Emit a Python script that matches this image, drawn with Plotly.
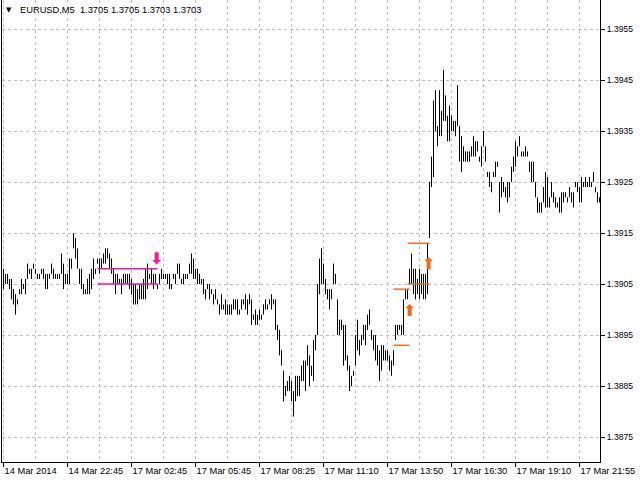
import plotly.graph_objects as go

# EURUSD M5, barres numerotees de 1 a 299 (le week-end est saute, comme dans MT4)
BAR_HIGH = [
    1.3908, 1.3907, 1.3907, 1.3906, 1.3906, 1.3904, 1.3903, 1.3902, 1.3904, 1.3906,
    1.3905, 1.3906, 1.3909, 1.3908, 1.3908, 1.3909, 1.3908, 1.3907, 1.3907, 1.3908,
    1.3908, 1.3907, 1.3907, 1.3907, 1.3909, 1.3908, 1.3907, 1.3907, 1.3907, 1.3911,
    1.3909, 1.3907, 1.3907, 1.3910, 1.3910, 1.3915, 1.3914, 1.3912, 1.3908, 1.3908,
    1.3905, 1.3904, 1.3906, 1.3907, 1.3908, 1.3910, 1.3908, 1.3910, 1.3910, 1.3910,
    1.3911, 1.3912, 1.3912, 1.3911, 1.3910, 1.3908, 1.3907, 1.3907, 1.3906, 1.3906,
    1.3907, 1.3907, 1.3907, 1.3907, 1.3906, 1.3905, 1.3905, 1.3904, 1.3905, 1.3905,
    1.3906, 1.3908, 1.3909, 1.3907, 1.3908, 1.3907, 1.3907, 1.3905, 1.3907, 1.3908,
    1.3907, 1.3907, 1.3907, 1.3907, 1.3905, 1.3907, 1.3907, 1.3909, 1.3909, 1.3906,
    1.3907, 1.3907, 1.3907, 1.3909, 1.3911, 1.3910, 1.3908, 1.3908, 1.3907, 1.3906,
    1.3906, 1.3904, 1.3905, 1.3905, 1.3904, 1.3903, 1.3904, 1.3902, 1.3901, 1.3903,
    1.3901, 1.3902, 1.3901, 1.3901, 1.3901, 1.3902, 1.3902, 1.3902, 1.3900, 1.3902,
    1.3902, 1.3903, 1.3902, 1.3903, 1.3902, 1.3899, 1.3900, 1.3899, 1.3900, 1.3899,
    1.3901, 1.3902, 1.3901, 1.3902, 1.3903, 1.3902, 1.3902, 1.3897, 1.3896, 1.3892,
    1.3888, 1.3885, 1.3886, 1.3887, 1.3886, 1.3884, 1.3887, 1.3887, 1.3887, 1.3889,
    1.3890, 1.3890, 1.3893, 1.3891, 1.3889, 1.3894, 1.3895, 1.3905, 1.3910, 1.3912,
    1.3909, 1.3906, 1.3904, 1.3904, 1.3904, 1.3909, 1.3907, 1.3902, 1.3898, 1.3898,
    1.3897, 1.3897, 1.3891, 1.3889, 1.3887, 1.3888, 1.3895, 1.3898, 1.3894, 1.3895,
    1.3897, 1.3897, 1.3899, 1.3900, 1.3896, 1.3895, 1.3895, 1.3893, 1.3892, 1.3893,
    1.3893, 1.3892, 1.3892, 1.3891, 1.3890, 1.3892, 1.3897, 1.3897, 1.3897, 1.3897,
    1.3902, 1.3904, 1.3904, 1.3908, 1.3911, 1.3908, 1.3908, 1.3906, 1.3908, 1.3907,
    1.3907, 1.3907, 1.3913, 1.3925, 1.3930, 1.3941, 1.3943, 1.3936, 1.3943, 1.3939,
    1.3947, 1.3942, 1.3938, 1.3940, 1.3938, 1.3937, 1.3937, 1.3944, 1.3936, 1.3934,
    1.3932, 1.3931, 1.3931, 1.3931, 1.3932, 1.3934, 1.3933, 1.3933, 1.3930, 1.3932,
    1.3935, 1.3932, 1.3927, 1.3927, 1.3925, 1.3927, 1.3929, 1.3929, 1.3925, 1.3926,
    1.3925, 1.3924, 1.3925, 1.3925, 1.3928, 1.3930, 1.3933, 1.3932, 1.3934, 1.3931,
    1.3931, 1.3932, 1.3931, 1.3929, 1.3929, 1.3929, 1.3925, 1.3922, 1.3921, 1.3921,
    1.3924, 1.3927, 1.3926, 1.3922, 1.3925, 1.3923, 1.3922, 1.3921, 1.3922, 1.3923,
    1.3923, 1.3923, 1.3922, 1.3924, 1.3923, 1.3923, 1.3925, 1.3925, 1.3924, 1.3926,
    1.3925, 1.3926, 1.3925, 1.3926, 1.3925, 1.3927, 1.3924, 1.3923, 1.3922,
]

BAR_LOW = [
    1.3904, 1.3905, 1.3905, 1.3904, 1.3902, 1.3901, 1.3899, 1.3901, 1.3903, 1.3903,
    1.3904, 1.3903, 1.3906, 1.3907, 1.3906, 1.3908, 1.3907, 1.3906, 1.3906, 1.3907,
    1.3906, 1.3904, 1.3904, 1.3906, 1.3907, 1.3906, 1.3906, 1.3906, 1.3906, 1.3907,
    1.3904, 1.3905, 1.3905, 1.3905, 1.3908, 1.3912, 1.3910, 1.3908, 1.3905, 1.3904,
    1.3903, 1.3903, 1.3903, 1.3903, 1.3904, 1.3906, 1.3907, 1.3909, 1.3907, 1.3908,
    1.3909, 1.3909, 1.3910, 1.3908, 1.3907, 1.3905, 1.3903, 1.3905, 1.3905, 1.3903,
    1.3905, 1.3905, 1.3905, 1.3904, 1.3903, 1.3901, 1.3901, 1.3901, 1.3902, 1.3902,
    1.3902, 1.3902, 1.3904, 1.3906, 1.3905, 1.3904, 1.3905, 1.3904, 1.3905, 1.3906,
    1.3906, 1.3906, 1.3905, 1.3904, 1.3904, 1.3906, 1.3905, 1.3907, 1.3906, 1.3905,
    1.3905, 1.3906, 1.3906, 1.3907, 1.3907, 1.3906, 1.3906, 1.3905, 1.3905, 1.3905,
    1.3903, 1.3902, 1.3904, 1.3902, 1.3903, 1.3901, 1.3902, 1.3901, 1.3899, 1.3900,
    1.3900, 1.3899, 1.3899, 1.3899, 1.3899, 1.3900, 1.3900, 1.3899, 1.3899, 1.3900,
    1.3901, 1.3900, 1.3899, 1.3901, 1.3897, 1.3898, 1.3897, 1.3897, 1.3898, 1.3898,
    1.3899, 1.3900, 1.3900, 1.3901, 1.3900, 1.3901, 1.3896, 1.3894, 1.3891, 1.3889,
    1.3882, 1.3883, 1.3884, 1.3884, 1.3882, 1.3879, 1.3882, 1.3883, 1.3883, 1.3886,
    1.3886, 1.3884, 1.3889, 1.3885, 1.3887, 1.3886, 1.3892, 1.3895, 1.3903, 1.3905,
    1.3905, 1.3903, 1.3902, 1.3900, 1.3902, 1.3905, 1.3905, 1.3895, 1.3895, 1.3896,
    1.3889, 1.3890, 1.3888, 1.3884, 1.3885, 1.3887, 1.3889, 1.3892, 1.3891, 1.3893,
    1.3894, 1.3893, 1.3896, 1.3897, 1.3894, 1.3892, 1.3890, 1.3889, 1.3886, 1.3888,
    1.3890, 1.3890, 1.3890, 1.3888, 1.3887, 1.3889, 1.3894, 1.3895, 1.3896, 1.3895,
    1.3895, 1.3902, 1.3902, 1.3905, 1.3905, 1.3903, 1.3902, 1.3903, 1.3902, 1.3903,
    1.3902, 1.3902, 1.3903, 1.3914, 1.3924, 1.3926, 1.3935, 1.3932, 1.3934, 1.3934,
    1.3937, 1.3937, 1.3933, 1.3933, 1.3935, 1.3935, 1.3934, 1.3936, 1.3929, 1.3927,
    1.3929, 1.3929, 1.3929, 1.3929, 1.3930, 1.3930, 1.3930, 1.3931, 1.3929, 1.3928,
    1.3932, 1.3929, 1.3926, 1.3924, 1.3923, 1.3926, 1.3926, 1.3928, 1.3919, 1.3922,
    1.3923, 1.3922, 1.3921, 1.3922, 1.3925, 1.3927, 1.3928, 1.3930, 1.3932, 1.3930,
    1.3930, 1.3930, 1.3930, 1.3927, 1.3925, 1.3925, 1.3922, 1.3919, 1.3919, 1.3919,
    1.3921, 1.3920, 1.3920, 1.3920, 1.3922, 1.3921, 1.3920, 1.3920, 1.3919, 1.3919,
    1.3921, 1.3922, 1.3921, 1.3922, 1.3921, 1.3920, 1.3924, 1.3923, 1.3921, 1.3921,
    1.3924, 1.3924, 1.3924, 1.3924, 1.3924, 1.3925, 1.3923, 1.3921, 1.3921,
]

BAR_INDEX = list(range(1, len(BAR_HIGH) + 1))

TIME_TICK_BARS = [1, 33, 65, 97, 129, 161, 193, 225, 257, 289]
TIME_TICK_LABELS = [
    "14 Mar 2014", "14 Mar 22:45", "17 Mar 02:45", "17 Mar 05:45", "17 Mar 08:25",
    "17 Mar 11:10", "17 Mar 13:50", "17 Mar 16:30", "17 Mar 19:10", "17 Mar 21:55",
]
PRICE_TICKS = [1.3875, 1.3885, 1.3895, 1.3905, 1.3915, 1.3925, 1.3935, 1.3945, 1.3955]

# niveaux tires par l'indicateur (signal de vente puis deux signaux d'achat)
SELL_LEVELS = [1.3908, 1.3905]
SELL_BARS = [48, 78]
SELL_ARROW = (77.5, 1.39098)
BUY1_LEVELS = [1.3904, 1.3893]
BUY1_BARS = [196, 204]
BUY2_LEVELS = [1.3913, 1.3905]
BUY2_BARS = [203, 214]
BUY_ARROWS_X = [204, 213.5]
BUY_ARROWS_Y = [1.38995, 1.39088]

HEADER = "EURUSD,M5\u00a0 1.3705 1.3705 1.3703 1.3703"

GRID = "#c0c0c0"
PINK = "#ff1493"
ORANGE = "#f06a18"
FONT = "Liberation Sans, Arial, sans-serif"


def segments(xs, lows, highs):
    sx, sy = [], []
    for x, lo, hi in zip(xs, lows, highs):
        sx += [x, x, None]
        sy += [lo, hi, None]
    return sx, sy


def level_lines(levels, span):
    sx, sy = [], []
    for lv in levels:
        sx += [span[0], span[1], None]
        sy += [lv, lv, None]
    return sx, sy


fig = go.Figure()

bx, by = segments(BAR_INDEX, BAR_LOW, BAR_HIGH)
fig.add_trace(go.Scatter(x=bx, y=by, mode="lines", line=dict(color="black", width=1), hoverinfo="skip"))

for levels, span, color in [
    (SELL_LEVELS, SELL_BARS, PINK),
    (BUY1_LEVELS, BUY1_BARS, ORANGE),
    (BUY2_LEVELS, BUY2_BARS, ORANGE),
]:
    lx, ly = level_lines(levels, span)
    fig.add_trace(go.Scatter(x=lx, y=ly, mode="lines", line=dict(color=color, width=1.4), hoverinfo="skip"))

fig.add_trace(
    go.Scatter(
        x=[SELL_ARROW[0]], y=[SELL_ARROW[1]], mode="text", text=["\u2b07"],
        textfont=dict(color=PINK, size=16, family="DejaVu Sans", weight="bold"), hoverinfo="skip",
    )
)
fig.add_trace(
    go.Scatter(
        x=BUY_ARROWS_X, y=BUY_ARROWS_Y, mode="text", text=["\u2b06"] * len(BUY_ARROWS_X),
        textfont=dict(color=ORANGE, size=16, family="DejaVu Sans", weight="bold"), hoverinfo="skip",
    )
)

fig.add_annotation(
    xref="paper", yref="paper", x=0.0125, y=0.978, text="\u25bc", showarrow=False,
    xanchor="center", yanchor="middle", font=dict(size=7, color="black", family="DejaVu Sans"),
)
fig.add_annotation(
    xref="paper", yref="paper", x=0.0268, y=0.978, text=HEADER, showarrow=False,
    xanchor="left", yanchor="middle", font=dict(size=9.3, color="black", family=FONT),
)

fig.update_layout(
    width=640,
    height=480,
    margin=dict(l=2, r=40, t=0, b=18),
    plot_bgcolor="white",
    paper_bgcolor="white",
    showlegend=False,
    font=dict(family=FONT, size=9.3, color="black"),
)
fig.update_xaxes(
    range=[0.25, 299.25],
    tickmode="array",
    tickvals=TIME_TICK_BARS,
    ticktext=TIME_TICK_LABELS,
    ticks="outside",
    ticklen=4,
    tickcolor="black",
    ticklabelposition="outside right",
    ticklabelstandoff=0,
    showline=True,
    linecolor="black",
    linewidth=1,
    showgrid=True,
    gridcolor=GRID,
    griddash="3px,3px",
    minor=dict(tick0=1, dtick=16, showgrid=True, gridcolor=GRID, griddash="3px,3px", ticks=""),
    zeroline=False,
)
fig.update_yaxes(
    range=[1.38701, 1.39607],
    side="right",
    tickmode="array",
    tickvals=PRICE_TICKS,
    tickformat=".4f",
    tickfont=dict(size=8.6),
    ticks="outside",
    ticklen=4,
    tickcolor="black",
    showline=True,
    mirror=True,
    linecolor="black",
    linewidth=1,
    showgrid=True,
    gridcolor=GRID,
    griddash="3px,3px",
    zeroline=False,
)

fig.write_html(
    "out.html",
    config={"displayModeBar": False},
    post_script="document.body.style.margin='0px';",
)
